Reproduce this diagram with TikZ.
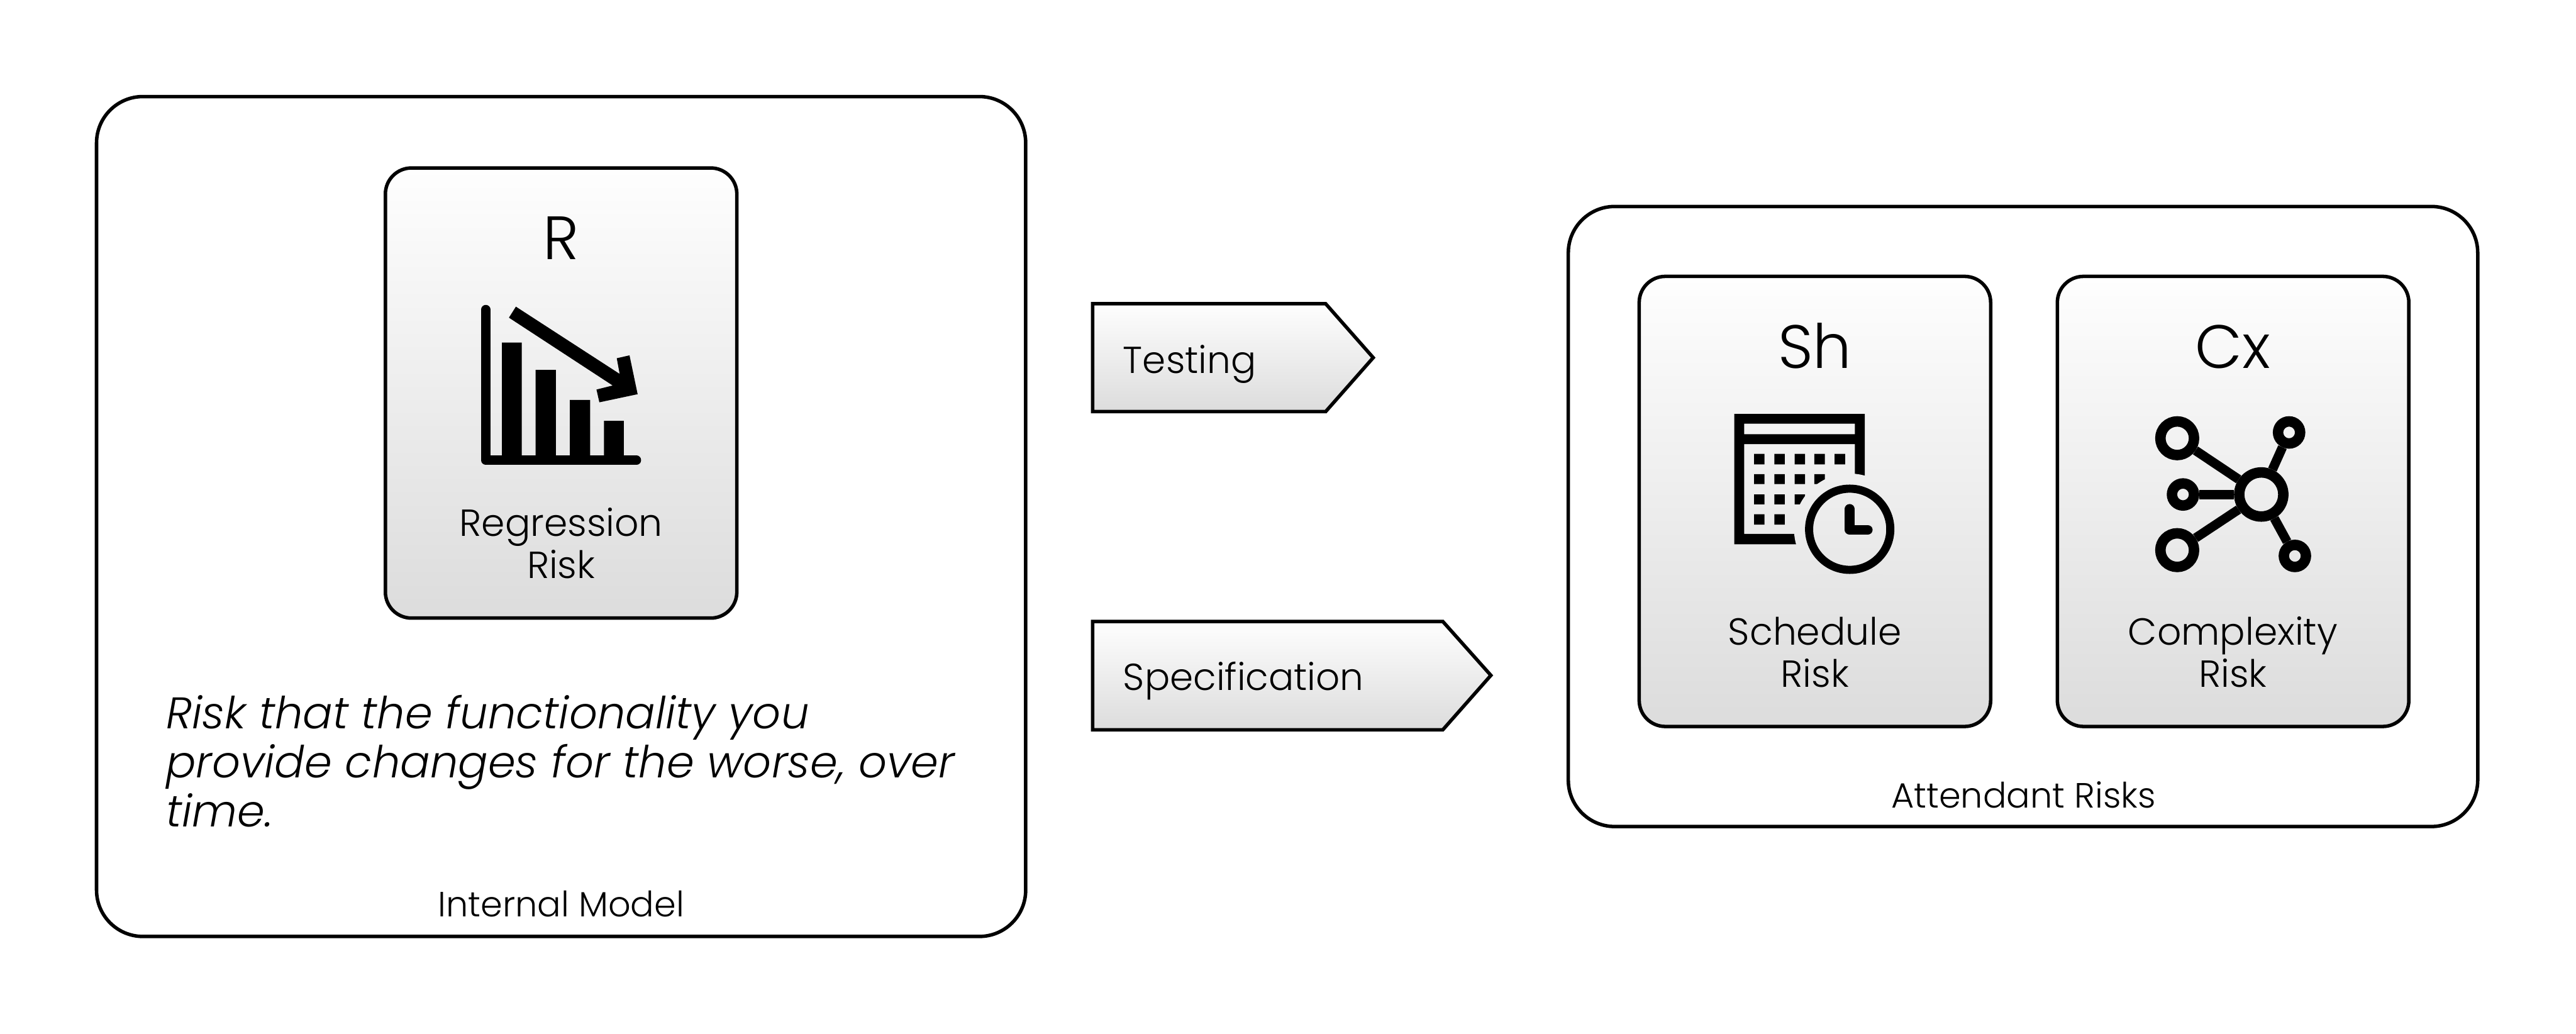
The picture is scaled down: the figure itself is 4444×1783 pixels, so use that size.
\documentclass[tikz,border=0pt]{standalone}
\usepackage{fontspec}
\setmainfont{Poppins Light}

\definecolor{cardtop}{HTML}{FEFEFE}
\definecolor{cardbottom}{HTML}{DCDCDC}

\tikzset{
    panel/.style={rectangle, rounded corners=0.8cm, draw, line width=0.06cm},
    card/.style={rectangle, rounded corners=0.45cm, draw, line width=0.06cm, top color=cardtop, bottom color=cardbottom, minimum width=6.06cm, minimum height=7.76cm},
    tagbox/.style={draw, line width=0.06cm, top color=cardtop, bottom color=cardbottom},
    title/.style={font=\fontsize{30}{30}\selectfont, anchor=base},
    cardtext/.style={font=\fontsize{18.5}{20.7}\selectfont, align=center, anchor=base},
    tagtext/.style={font=\fontsize{18.4}{20}\selectfont, anchor=base west, inner sep=0pt},
    paneltext/.style={font=\fontsize{17.2}{18}\selectfont, anchor=base},
    hub/.style={circle, draw, line width=0.18cm, inner sep=0pt},
    spoke/.style={line width=0.16cm},
}

\begin{document}
\begin{tikzpicture}[x=0.01cm, y=-0.01cm]
    \useasboundingbox (0,0) rectangle (4444,1783);
    \node (model) [panel, minimum width=16.02cm, minimum height=14.48cm] at (968,891) {};
    \node (attendant) [panel, minimum width=15.68cm, minimum height=10.69cm] at (3490,891) {};
    \node (rcard) [card] at (968,678) {};
    \node (shcard) [card] at (3131,865) {};
    \node (cxcard) [card, right of=shcard, node distance=7.21cm] {};
    \node (rtitle) [title] at (968,448) {R};
    \node (shtitle) [title] at (3131,635) {Sh};
    \node (cxtitle) [title] at (3852,635) {Cx};
    \node (rlabel) [cardtext] at (968,998) {Regression\\Risk};
    \node (shlabel) [cardtext] at (3131,1185) {Schedule\\Risk};
    \node (cxlabel) [cardtext] at (3852,1185) {Complexity\\Risk};

    % falling bars
    \draw [line width=0.16cm, line cap=round, line join=round] (838,534) -- (838,794) -- (1098,794);
    \fill (866,591) rectangle (900,794) (924,638) rectangle (959,794) (983,690) rectangle (1018,794) (1042,726) rectangle (1076,794);
    \fill (890,529) -- (1069,645) -- (1064,618) -- (1086,613) -- (1100,680) -- (1034,694) -- (1029,672) -- (1057,665) -- (878,548) -- cycle;

    % calendar with clock
    \fill [even odd rule] (2992,714) rectangle (3217,939) (3009,731) rectangle (3200,749) (3009,766) rectangle (3200,921);
    \fill (3026,783) rectangle +(18,18) (3061,783) rectangle +(18,18) (3096,783) rectangle +(18,18) (3130,783) rectangle +(18,18) (3165,783) rectangle +(18,18);
    \fill (3026,818) rectangle +(18,17) (3061,818) rectangle +(18,17) (3096,818) rectangle +(18,17) (3130,818) rectangle +(18,17);
    \fill (3026,853) rectangle +(18,17) (3061,853) rectangle +(18,17) (3096,853) rectangle +(18,17);
    \fill (3026,887) rectangle +(18,18) (3061,887) rectangle +(18,18);
    \begin{scope}
        \clip (3191,913) circle (0.96cm);
        \shade [top color=cardtop, bottom color=cardbottom] (2828,477) rectangle (3434,1253);
    \end{scope}
    \draw [line width=0.14cm] (3191,913) circle (0.70cm);
    \draw [line width=0.17cm, line cap=round, line join=round] (3191,878) -- (3191,914) -- (3222,914);

    % network
    \node (hubc) [hub, minimum size=0.76cm] at (3901,853) {};
    \node (huba) [hub, minimum size=0.58cm] at (3756,756) {};
    \node (hubb) [hub, minimum size=0.38cm] at (3766,853) {};
    \node (hubd) [hub, minimum size=0.58cm] at (3756,949) {};
    \node (hube) [hub, minimum size=0.38cm] at (3949,746) {};
    \node (hubf) [hub, minimum size=0.38cm] at (3959,959) {};
    \draw [spoke] (huba) -- (hubc);
    \draw [spoke] (hubb) -- (hubc);
    \draw [spoke] (hubd) -- (hubc);
    \draw [spoke] (hube) -- (hubc);
    \draw [spoke] (hubf) -- (hubc);

    % tags
    \draw [tagbox] (1885,524) -- (2287,524) -- (2369,617) -- (2287,710) -- (1885,710) -- cycle;
    \draw [tagbox] (1885,1072) -- (2489,1072) -- (2572,1165) -- (2489,1259) -- (1885,1259) -- cycle;
    \node (testing) [tagtext] at (1937,644) {Testing};
    \node (spec) [tagtext] at (1937,1191) {Specification};

    \node (riskdef) [font=\fontsize{21.7}{24.1}\selectfont\itshape, align=left, anchor=base west, inner sep=0pt] at (286,1426) {Risk that the functionality you\\provide changes for the worse, over\\time.};
    \node (modellabel) [paneltext] at (968,1581) {Internal Model};
    \node (attendantlabel) [paneltext] at (3491,1394) {Attendant Risks};
\end{tikzpicture}
\end{document}
